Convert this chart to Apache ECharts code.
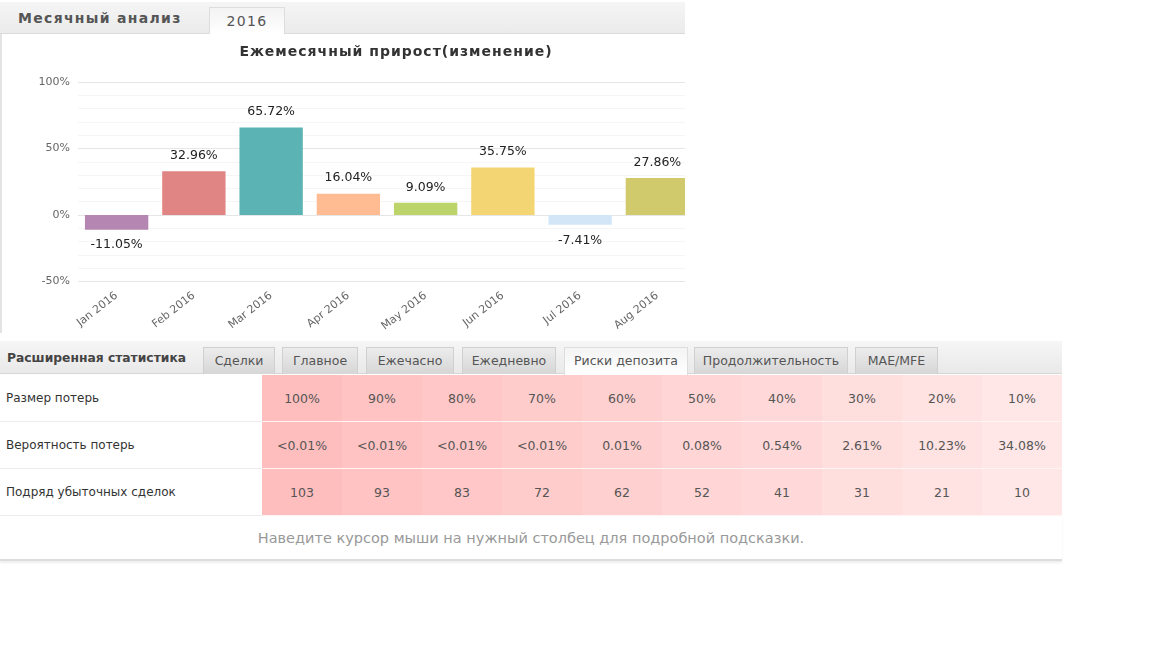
<!DOCTYPE html>
<html lang="ru">
<head>
<meta charset="UTF-8" />
<title>Месячный анализ</title>
<script src="https://cdn.jsdelivr.net/npm/echarts@6/dist/echarts.min.js"></script>
<style>
  body { margin: 0; background: #fff; font-family: "DejaVu Sans", Verdana, sans-serif; }
  .abs { position: absolute; }
  .bar1 { left: 0; width: 685px; height: 31px; top: 2px;
          background: linear-gradient(#f5f5f5, #ebebeb); border-bottom: 1px solid #dcdcdc; }
  .h1 { left: 18px; top: 10px; font-weight: bold; font-size: 14px; letter-spacing: 1.3px; color: #555; }
  .tab2016 { left: 209px; top: 7px; width: 76px; height: 27px; box-sizing: border-box;
             background: linear-gradient(#f3f3f3, #fff); border: 1px solid #ddd; border-bottom: none;
             text-align: center; line-height: 26px; font-size: 14px; color: #555; letter-spacing: 1.3px; }
  .lborder { left: 0; top: 34px; width: 2px; height: 299px; background: #e3e3e3; }
  .ctitle { left: 2px; top: 43px; width: 788px; text-align: center; font-weight: bold; font-size: 14px;
            letter-spacing: 1px; color: #333; }
  #clip { left: 2px; top: 34px; width: 683px; height: 300px; overflow: hidden; }
  #chart { width: 710px; height: 300px; }
  .bar2 { left: 0; top: 341px; width: 1062px; height: 32px;
          background: linear-gradient(#f6f6f6, #e9e9e9); border-bottom: 1px solid #d6d6d6; }
  .h2 { left: 7px; top: 351px; font-weight: bold; font-size: 12.3px; color: #444; }
  .tab { top: 347px; height: 27px; box-sizing: border-box; text-align: center; line-height: 25px;
         font-size: 12.5px; color: #555; border: 1px solid #d0d0d0; border-bottom: none;
         background: linear-gradient(#ececec, #d6d6d6); }
  .tab.on { background: linear-gradient(#f4f4f4, #fff); border-color: #ddd; height: 28px; }
  #tbl { left: 0; top: 375px; border-collapse: collapse; font-size: 12.5px; }
  #tbl td { height: 46px; padding: 0; border-bottom: 1px solid #ececec; }
  #tbl td.lab { width: 256px; padding-left: 6px; color: #333; font-size: 12px; }
  #tbl td.val { width: 80px; text-align: center; color: #555; border-bottom-color: #fff4f4; }
  .foot { left: 0; top: 516px; width: 1062px; height: 43px; line-height: 44px; text-align: center;
          font-size: 14.5px; color: #999; border-bottom: 2px solid #ddd; box-shadow: 0 2px 2px #eee; }
</style>
</head>
<body>
<div class="abs bar1"></div>
<div class="abs h1">Месячный анализ</div>
<div class="abs tab2016">2016</div>
<div class="abs lborder"></div>
<div class="abs" id="clip"><div id="chart"></div></div>
<div class="abs ctitle" id="ctitle"></div>

<div class="abs bar2"></div>
<div class="abs h2">Расширенная статистика</div>
<div id="tabs"></div>
<table class="abs" id="tbl"></table>
<div class="abs foot">Наведите курсор мыши на нужный столбец для подробной подсказки.</div>

<script>
  // monthly growth data
  const chartTitle = "Ежемесячный прирост(изменение)";
  const months = ["Jan 2016", "Feb 2016", "Mar 2016", "Apr 2016", "May 2016", "Jun 2016", "Jul 2016", "Aug 2016"];
  const growth = [-11.05, 32.96, 65.72, 16.04, 9.09, 35.75, -7.41, 27.86];
  const barColors = ["#b586b1", "#e18584", "#5bb3b3", "#ffbb91", "#bdd46a", "#f4d574", "#d3e6f8", "#d0ca6c"];

  // deposit risk table
  const tabNames = ["Сделки", "Главное", "Ежечасно", "Ежедневно", "Риски депозита", "Продолжительность", "MAE/MFE"];
  const activeTab = "Риски депозита";
  const rowLabels = ["Размер потерь", "Вероятность потерь", "Подряд убыточных сделок"];
  const lossSize = ["100%", "90%", "80%", "70%", "60%", "50%", "40%", "30%", "20%", "10%"];
  const lossProb = ["<0.01%", "<0.01%", "<0.01%", "<0.01%", "0.01%", "0.08%", "0.54%", "2.61%", "10.23%", "34.08%"];
  const lossStreak = ["103", "93", "83", "72", "62", "52", "41", "31", "21", "10"];

  document.getElementById("ctitle").textContent = chartTitle;

  // tab layout
  const tabLeft = [203, 282, 366, 462, 564, 694, 855];
  const tabWidth = [72, 76, 88, 94, 124, 154, 83];
  const tabsEl = document.getElementById("tabs");
  tabNames.forEach((t, i) => {
    const d = document.createElement("div");
    d.className = "abs tab" + (t === activeTab ? " on" : "");
    d.style.left = tabLeft[i] + "px";
    d.style.width = tabWidth[i] + "px";
    d.textContent = t;
    tabsEl.appendChild(d);
  });

  // cell shade goes from strong pink to pale pink
  function shade(i, n) {
    const t = i / (n - 1);
    const g = Math.round(190 + t * 41);
    return "rgb(255," + g + "," + g + ")";
  }
  const tbl = document.getElementById("tbl");
  [lossSize, lossProb, lossStreak].forEach((row, r) => {
    const tr = document.createElement("tr");
    const lab = document.createElement("td");
    lab.className = "lab";
    lab.textContent = rowLabels[r];
    tr.appendChild(lab);
    row.forEach((v, i) => {
      const td = document.createElement("td");
      td.className = "val";
      td.style.background = shade(i, row.length);
      td.textContent = v;
      tr.appendChild(td);
    });
    tbl.appendChild(tr);
  });

  const chart = echarts.init(document.getElementById("chart"));
  chart.setOption({
    animation: false,
    grid: { left: 76, top: 48, right: 16, bottom: 52.5 },
    xAxis: {
      type: "category",
      data: months,
      axisLine: { show: false },
      axisTick: { show: false },
      axisLabel: { rotate: 38, color: "#666", fontSize: 11, fontFamily: "DejaVu Sans", margin: 13, interval: 0 }
    },
    yAxis: {
      type: "value",
      min: -50, max: 100, interval: 10,
      axisLabel: {
        color: "#666", fontSize: 11, fontFamily: "DejaVu Sans", margin: 8,
        formatter: (v) => (v % 50 === 0 ? v + "%" : "")
      },
      splitLine: { lineStyle: { color: ["#e6e6e6", "#f5f5f5", "#f5f5f5", "#f5f5f5", "#f5f5f5"] } }
    },
    series: [{
      type: "bar",
      barCategoryGap: "18%",
      data: growth.map((v, i) => ({
        value: v,
        itemStyle: { color: barColors[i] },
        label: { position: v < 0 ? "bottom" : "top" }
      })),
      label: {
        show: true, distance: 9, color: "#222", fontSize: 12.5, fontFamily: "DejaVu Sans",
        formatter: (p) => p.value.toFixed(2) + "%"
      }
    }]
  });
</script>
</body>
</html>
